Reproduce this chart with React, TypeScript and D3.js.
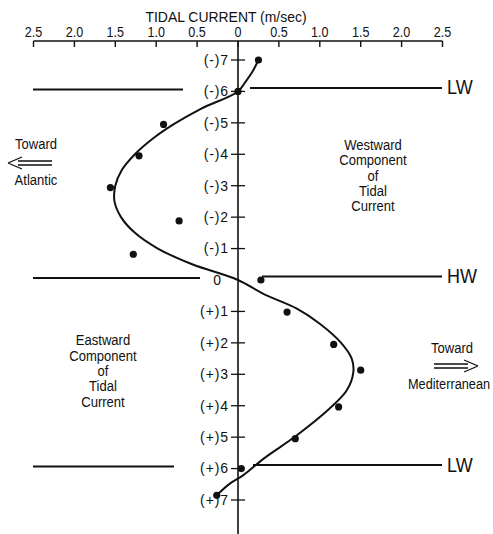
import React from "react";
import * as d3 from "d3";

// ---- data ----
const currentTicks = [-2.5, -2, -1.5, -1, -0.5, 0, 0.5, 1, 1.5, 2, 2.5];
const hourTicks = [-7, -6, -5, -4, -3, -2, -1, 0, 1, 2, 3, 4, 5, 6, 7];
const hourLabels = ["(-)7", "(-)6", "(-)5", "(-)4", "(-)3", "(-)2", "(-)1", "0", "(+)1", "(+)2", "(+)3", "(+)4", "(+)5", "(+)6", "(+)7"];

// observed points (hour relative to HW, current m/s; + = westward)
const pointHours = [-7, -6, -4.95, -3.95, -2.94, -1.88, -0.82, 0, 1.02, 2.05, 2.87, 4.04, 5.05, 6.0, 6.85];
const pointValues = [0.25, 0, -0.91, -1.21, -1.56, -0.72, -1.28, 0.28, 0.6, 1.17, 1.5, 1.23, 0.7, 0.04, -0.26];

// fitted curve
const curveHours = [-7.0, -6.6, -6.3, -6.0, -5.44, -4.95, -4.5, -4.0, -3.5, -3.0, -2.5, -2.0, -1.5, -1.0, -0.5, 0.0, 0.44, 0.91, 1.39, 1.97, 2.5, 2.93, 3.51, 4.09, 4.94, 5.69, 6.21, 6.48, 6.85];
const curveValues = [0.25, 0.17, 0.09, 0.0, -0.46, -0.79, -1.04, -1.26, -1.42, -1.5, -1.51, -1.43, -1.26, -0.98, -0.56, 0.0, 0.31, 0.72, 1.0, 1.25, 1.39, 1.41, 1.33, 1.12, 0.72, 0.31, 0.065, -0.1, -0.26];

// reference level lines (hour, label)
const levelHours = [-6, 0, 6];
const levelLabels = ["LW", "HW", "LW"];

const FONT = "'Liberation Sans', Arial, Helvetica, sans-serif";

type TP = {
  x: number;
  y: number;
  size: number;
  sx?: number;
  anchor?: "start" | "middle" | "end";
  ls?: number;
  children: React.ReactNode;
};
function T({ x, y, size, sx = 0.87, anchor = "middle", ls = 0, children }: TP) {
  return (
    <text
      transform={`translate(${x},${y}) scale(${sx},1)`}
      x={0}
      y={0}
      dy="0.35em"
      textAnchor={anchor}
      fontFamily={FONT}
      fontSize={size}
      letterSpacing={ls}
      fill="#111"
    >
      {children}
    </text>
  );
}

export default function App() {
  const W = 493, H = 534;
  const x = d3.scaleLinear().domain([-2.5, 2.5]).range([33.5, 442.5]);
  const y = d3.scaleLinear().domain([-7, 7]).range([60, 500]);
  const axisY = 41;
  const x0 = x(0);

  const line = d3
    .line<number>()
    .x((_, i) => x(curveValues[i]))
    .y((_, i) => y(curveHours[i]))
    .curve(d3.curveCatmullRom.alpha(0.5));

  const fmt = (v: number) => (v === 0 ? "0" : Math.abs(v).toFixed(1));

  const leftEnds = [183, 200, 174];
  const rightStarts = [250, 262, 253];

  return (
    <svg width={W} height={H} style={{ position: "absolute", left: 0, top: 0, background: "#fff" }}>
      <rect width={W} height={H} fill="#fff" />
      {/* title */}
      <T x={226} y={17} size={15.5} sx={0.9}>TIDAL CURRENT (m/sec)</T>
      {/* top axis */}
      <line x1={x(-2.5)} x2={x(2.5)} y1={axisY} y2={axisY} stroke="#111" strokeWidth={1.6} />
      {currentTicks.map((t) => (
        <g key={t}>
          <line x1={x(t)} x2={x(t)} y1={axisY} y2={axisY + 6} stroke="#111" strokeWidth={1.4} />
          <T x={x(t)} y={32} size={14} sx={0.9}>{fmt(t)}</T>
        </g>
      ))}
      {/* vertical axis */}
      <line x1={x0} x2={x0} y1={axisY} y2={H} stroke="#111" strokeWidth={1.6} />
      {hourTicks.map((h, i) => (
        <g key={h}>
          {h !== 0 && <line x1={x0 - 7} x2={x0 + 7} y1={y(h)} y2={y(h)} stroke="#111" strokeWidth={1.3} />}
          <T x={h === 0 ? 222 : 229} y={y(h)} size={14} sx={1} ls={0.9} anchor="end">
            {hourLabels[i]}
          </T>
        </g>
      ))}
      {/* level lines */}
      {levelHours.map((h, i) => (
        <g key={i}>
          <line x1={33} x2={leftEnds[i]} y1={y(h) - 2} y2={y(h) - 2} stroke="#111" strokeWidth={2} />
          <line x1={rightStarts[i]} x2={442} y1={y(h) - 3.5} y2={y(h) - 3.5} stroke="#111" strokeWidth={2} />
          <T x={447} y={y(h) - 4} size={20} sx={0.9} anchor="start">
            {levelLabels[i]}
          </T>
        </g>
      ))}
      {/* curve */}
      <path d={line(curveHours) || ""} fill="none" stroke="#111" strokeWidth={2} />
      {/* points */}
      {pointHours.map((h, i) => (
        <circle key={i} cx={x(pointValues[i])} cy={y(h)} r={3.6} fill="#111" />
      ))}
      {/* left annotation */}
      <T x={36} y={144} size={15}>Toward</T>
      <path d="M18,161 H52 M18,165 H52 M8,163 L22,157 M8,163 L22,169" stroke="#111" strokeWidth={1.3} fill="none" />
      <T x={36} y={180} size={15}>Atlantic</T>
      {/* right annotation */}
      <T x={452} y={348} size={15}>Toward</T>
      <path d="M434,364 H468 M434,368 H468 M478,366 L464,360 M478,366 L464,372" stroke="#111" strokeWidth={1.3} fill="none" />
      <T x={449} y={384} size={15} sx={0.85}>Mediterranean</T>
      {/* westward block */}
      {["Westward", "Component", "of", "Tidal", "Current"].map((s, i) => (
        <T key={s} x={373} y={145 + i * 15.2} size={15}>{s}</T>
      ))}
      {/* eastward block */}
      {["Eastward", "Component", "of", "Tidal", "Current"].map((s, i) => (
        <T key={s} x={103} y={340 + i * 15.4} size={15}>{s}</T>
      ))}
    </svg>
  );
}
